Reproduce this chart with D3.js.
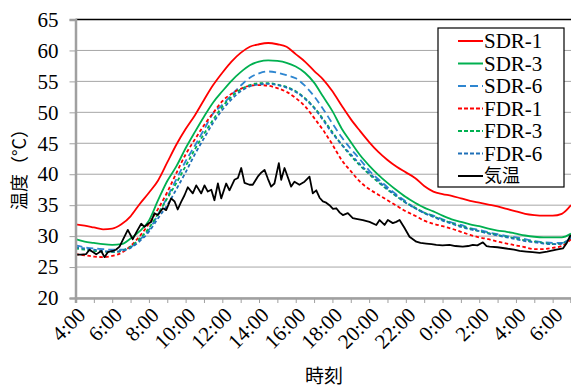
<!DOCTYPE html>
<html><head><meta charset="utf-8">
<script src="https://cdn.jsdelivr.net/npm/d3@7"></script>
<style>
body{margin:0;background:#fff;}
svg{display:block;}
</style></head>
<body><svg id="c" width="571" height="388"></svg>
<script>
// ---- data ----
const halfHours = d3.range(4, 31.001, 0.5); // 4:00 .. 7:00 next day
const sdr1 = [31.9,31.7,31.4,31.1,31.2,31.9,33.2,35.2,37.0,39.0,
  41.9,44.8,47.3,49.5,52.0,54.4,56.4,58.2,59.6,60.6,
  61.0,61.2,61.0,60.6,59.4,58.2,56.7,55.3,53.4,51.1,
  48.9,47.0,45.2,43.6,42.3,41.2,40.3,39.4,38.1,37.2,
  36.8,36.5,36.1,35.7,35.4,35.1,34.8,34.4,34.0,33.6,
  33.4,33.3,33.3,33.6,35.0];
const sdr3 = [29.5,29.1,28.9,28.7,28.6,28.7,29.6,30.8,32.5,35.8,
  38.9,41.3,44.2,46.8,49.3,51.6,53.4,55.1,56.5,57.6,
  58.2,58.4,58.3,58.0,57.4,56.4,54.8,52.5,50.2,47.4,
  45.2,43.1,41.4,39.9,38.6,37.4,36.3,35.4,34.6,34.0,
  33.3,32.7,32.3,31.9,31.6,31.2,30.9,30.7,30.4,30.1,
  29.9,29.8,29.8,29.8,30.4];
const sdr6 = [28.5,28.2,28.0,27.9,27.8,27.8,28.2,29.4,31.0,33.5,
  36.3,39.2,42.1,44.6,47.2,49.8,51.2,52.8,54.3,55.6,
  56.3,56.6,56.4,56.0,55.5,54.3,52.6,50.5,48.2,46.0,
  44.1,42.4,40.6,39.2,37.9,36.7,35.6,34.5,33.8,33.3,
  32.7,32.2,31.8,31.3,31.0,30.6,30.3,30.0,29.8,29.5,
  29.2,29.0,28.9,28.9,29.8];
const fdr1 = [27.1,26.9,26.7,26.6,26.8,27.3,28.4,30.0,32.0,34.4,
  37.1,40.2,43.2,45.6,47.9,49.9,51.8,53.0,53.8,54.3,
  54.4,54.3,53.9,53.3,52.3,51.0,49.1,47.1,44.8,42.3,
  40.5,38.8,37.6,36.7,35.8,34.9,34.0,33.3,32.5,32.0,
  31.6,31.2,30.7,30.2,29.8,29.5,29.1,28.8,28.5,28.2,
  27.9,27.9,28.1,28.4,29.5];
const fdr3 = [28.0,27.8,27.6,27.5,27.4,27.6,28.3,29.6,31.3,33.6,
  36.1,38.6,41.3,44.0,46.5,48.8,50.9,52.5,53.7,54.4,
  54.7,54.7,54.5,54.1,53.4,52.3,50.8,48.9,46.8,44.8,
  43.0,41.4,40.0,38.7,37.5,36.4,35.4,34.6,33.8,33.2,
  32.6,32.1,31.6,31.2,30.8,30.5,30.2,29.9,29.6,29.3,
  29.1,28.9,28.7,28.8,29.9];
const fdr6 = [28.2,28.0,27.8,27.6,27.5,27.6,28.1,29.2,30.7,32.9,
  35.0,37.6,40.3,43.2,45.8,48.3,50.4,52.1,53.4,54.2,
  54.5,54.6,54.4,54.0,53.3,52.2,50.7,48.7,46.6,44.8,
  43.2,41.6,40.2,38.9,37.6,36.5,35.4,34.5,33.7,33.1,
  32.5,32.0,31.5,31.1,30.8,30.4,30.1,29.8,29.5,29.2,
  29.0,28.8,28.7,28.8,29.8];
const airHours = [4.0,4.3,4.58,4.76,5.13,5.4,5.58,5.76,6.03,6.2,6.4,6.6,6.85,7.12,7.35,7.58,7.76,7.95,8.12,8.3,
  8.49,8.76,8.94,9.21,9.4,9.57,9.75,9.94,10.12,10.39,10.58,10.85,11.03,11.21,11.4,11.57,11.76,11.94,12.21,12.39,
  12.66,12.85,13.03,13.21,13.48,13.66,13.93,14.1,14.3,14.48,14.66,14.84,15.08,15.21,15.39,15.57,15.75,15.93,16.2,16.48,
  16.75,16.93,17.12,17.3,17.48,17.66,17.84,18.03,18.21,18.4,18.57,18.84,19.11,19.3,19.66,20.02,20.39,20.57,20.84,21.02,
  21.29,21.48,21.66,21.93,22.2,22.57,22.8,23.11,23.4,23.66,24.0,24.38,24.7,25.1,25.4,25.65,25.9,26.2,26.4,26.56,
  27.0,27.47,27.9,28.2,28.56,28.9,29.29,29.7,30.2,30.56,30.75,30.98];
const airTemp = [27.0,27.0,27.1,27.8,27.05,27.6,26.6,27.4,27.6,27.8,28.3,29.5,31.0,29.5,30.8,32.0,31.5,32.0,32.3,33.7,
  33.4,34.5,34.2,36.1,35.6,34.3,35.5,36.6,37.9,36.9,38.2,36.9,38.2,37.2,37.5,35.8,38.5,36.1,38.5,37.4,
  39.1,39.4,41.0,38.6,38.3,38.3,39.6,40.2,40.7,39.3,38.0,38.5,41.8,39.1,41.0,39.5,38.0,38.8,38.3,38.8,
  39.6,36.9,37.4,36.2,35.6,35.4,35.0,34.4,34.5,33.8,33.4,33.7,32.9,32.8,32.6,32.3,31.8,32.6,31.8,32.6,
  32.1,32.3,32.6,31.3,29.9,29.1,28.9,28.8,28.7,28.6,28.5,28.6,28.4,28.3,28.4,28.6,28.5,29.0,28.4,28.3,
  28.2,28.0,27.8,27.6,27.5,27.4,27.3,27.5,27.8,28.0,28.8,30.2];
const yTicks = [20,25,30,35,40,45,50,55,60,65];
const xLabelHours = [4,6,8,10,12,14,16,18,20,22,24,26,28,30];
const xLabels = ["4:00","6:00","8:00","10:00","12:00","14:00","16:00","18:00","20:00","22:00","0:00","2:00","4:00","6:00"];
const seriesNames = ["SDR-1","SDR-3","SDR-6","FDR-1","FDR-3","FDR-6","気温"];

// ---- layout ----
const SERIF = '"Liberation Serif"';
const CJK = '"Noto Sans CJK JP"';
const svg = d3.select("#c");
const L = 75.5, R = 571, T = 19.5, B = 298;
const x = d3.scaleLinear().domain([4, 31]).range([L, R]);
const y = d3.scaleLinear().domain([20, 65]).range([B, T]);

const styles = [
  {c:"#ff0000", d:null},
  {c:"#00b050", d:null},
  {c:"#2e86d0", d:"7,4"},
  {c:"#ff0000", d:"3.5,2.5"},
  {c:"#00b050", d:"3.5,2.5"},
  {c:"#1f70b8", d:"3.5,2.5"},
  {c:"#000000", d:null}
];

// gridlines
svg.append("g").selectAll("line").data(yTicks.filter(v=>v<65)).join("line")
  .attr("x1", L).attr("x2", R).attr("y1", d=>y(d)).attr("y2", d=>y(d))
  .attr("stroke", "#a6a6a6").attr("stroke-width", 1);
// top border
svg.append("line").attr("x1", L).attr("x2", R).attr("y1", y(65)).attr("y2", y(65))
  .attr("stroke", "#000").attr("stroke-width", 1.5);

// clip
svg.append("clipPath").attr("id","clip").append("rect")
  .attr("x", L).attr("y", T-5).attr("width", R-L).attr("height", B-T+5);

const lineGen = d3.line().x(d=>x(d[0])).y(d=>y(d[1])).curve(d3.curveMonotoneX);
const airLine = d3.line().x(d=>x(d[0])).y(d=>y(d[1]));
const gLines = svg.append("g").attr("clip-path","url(#clip)");
const allSeries = [sdr1, sdr3, sdr6, fdr1, fdr3, fdr6];
allSeries.forEach((s,i)=>{
  gLines.append("path").datum(halfHours.map((h,j)=>[h, s[j]]))
    .attr("d", lineGen).attr("fill","none")
    .attr("stroke", styles[i].c).attr("stroke-width", 1.8)
    .attr("stroke-dasharray", styles[i].d);
});
gLines.append("path").datum(airHours.map((h,j)=>[h, airTemp[j]]))
  .attr("d", airLine).attr("fill","none").attr("stroke","#000").attr("stroke-width",1.8)
  .attr("stroke-linejoin","round");

// y axis
const yAxis = d3.axisLeft(y).tickValues(yTicks).tickSize(6).tickPadding(11).tickFormat(d3.format("d"));
const gy = svg.append("g").attr("transform", `translate(${L},0)`).call(yAxis);
gy.select(".domain").attr("stroke","#a0a0a0").attr("stroke-width",2.5);
gy.selectAll(".tick line").attr("stroke","#a0a0a0").attr("stroke-width",1);
gy.selectAll(".tick text").style("font-family", SERIF).style("font-size","21px").attr("fill","#000");

// x axis
const xAxis = d3.axisBottom(x).tickValues(d3.range(4, 32, 1)).tickSize(5).tickFormat("");
const gx = svg.append("g").attr("transform", `translate(0,${B})`).call(xAxis);
gx.select(".domain").attr("stroke","#a0a0a0").attr("stroke-width",2.5);
gx.selectAll(".tick line").attr("stroke","#a0a0a0").attr("stroke-width",1);
svg.append("g").selectAll("text").data(xLabelHours).join("text")
  .attr("transform", d=>`translate(${x(d)+6},${B+13}) rotate(-45)`)
  .attr("text-anchor","end").attr("dy","0.35em")
  .style("font-family", SERIF).style("font-size","21px").text((d,i)=>xLabels[i]);

// axis titles
svg.append("text").attr("x", 324).attr("y", 383)
  .attr("text-anchor","middle").style("font-family", CJK).style("font-size","19px").text("時刻");
svg.append("text")
  .attr("transform","translate(26,165) rotate(-90)")
  .attr("text-anchor","middle").style("font-family", CJK).style("font-size","18px").text("温度（°C）");

// legend
const lg = svg.append("g");
lg.append("rect").attr("x",438).attr("y",28).attr("width",126).attr("height",159)
  .attr("fill","#fff").attr("stroke","#000").attr("stroke-width",1.2);
seriesNames.forEach((n,i)=>{
  const yy = 41 + 22.5*i;
  lg.append("line").attr("x1",458).attr("x2",483).attr("y1",yy).attr("y2",yy)
    .attr("stroke", styles[i].c).attr("stroke-width",2)
    .attr("stroke-dasharray", i===2 ? "8,4" : (styles[i].d ? "4,2" : null));
  lg.append("text").attr("x",484).attr("y",yy).attr("dy","0.34em")
    .style("font-family", i===6 ? CJK : SERIF)
    .style("font-size", i===6 ? "18px" : "21px").text(n);
});
</script></body></html>
